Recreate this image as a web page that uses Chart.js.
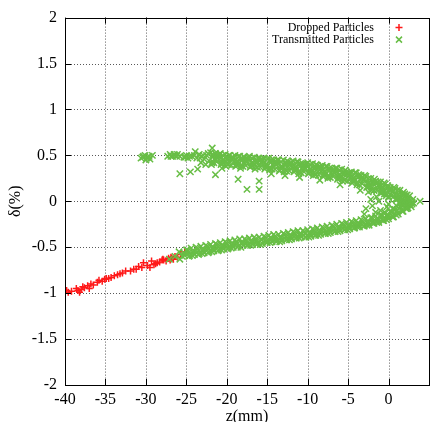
<!DOCTYPE html>
<html>
<head>
<meta charset="utf-8">
<script src="https://cdn.jsdelivr.net/npm/chart.js@4.4.1/dist/chart.umd.min.js"></script>
<style>
  html, body { margin: 0; padding: 0; background: #fff; overflow: hidden; }
  #wrap { width: 435px; height: 422px; }
</style>
</head>
<body>
<div id="wrap"><canvas id="phaseChart" width="435" height="422"></canvas></div>
<script>
// axis ticks
const xTickValues = [-40, -35, -30, -25, -20, -15, -10, -5, 0];
const xTickLabels = ['-40', '-35', '-30', '-25', '-20', '-15', '-10', '-5', '0'];
const yTickValues = [-2, -1.5, -1, -0.5, 0, 0.5, 1, 1.5, 2];
const yTickLabels = ['-2', '-1.5', '-1', '-0.5', '0', '0.5', '1', '1.5', '2'];

// dropped particles (z in mm, delta in %)
const dropZ = [-39.8, -39.6, -38.6, -38.4, -38.2, -38.0, -37.6, -37.2, -37.0, -36.5,
  -36.0, -35.8, -35.4, -35.1, -34.6, -34.3, -33.9, -33.5, -32.9, -32.5,
  -31.9, -31.5, -30.9, -30.5, -30.3, -29.8, -29.5, -29.3, -28.8, -28.3,
  -28.0, -27.9, -27.5, -27.2, -26.9, -26.6, -26.4, -26.1, -25.7, -25.2,
  -28.6, -27.8, -26.8, -39.2, -37.8, -36.8, -34.9, -33.2, -31.2, -29.0, -27.0];
const dropDelta = [-0.97, -0.99, -0.95, -0.97, -0.99, -0.96, -0.94, -0.92, -0.95, -0.91,
  -0.88, -0.86, -0.87, -0.85, -0.84, -0.83, -0.81, -0.80, -0.78, -0.76,
  -0.76, -0.74, -0.71, -0.72, -0.67, -0.70, -0.72, -0.65, -0.68, -0.66,
  -0.64, -0.63, -0.65, -0.62, -0.61, -0.63, -0.60, -0.61, -0.58, -0.55,
  -0.67, -0.64, -0.62, -0.98, -0.93, -0.90, -0.84, -0.79, -0.74, -0.69, -0.64];

// transmitted particles, upper branch
const upperZ = [
  -22.0, -21.7, -22.2, -21.9,  -21.4, -21.1, -21.6, -21.3,  -20.8, -20.5, -21.0, -20.7,
  -20.2, -19.9, -20.4, -20.1,  -19.6, -19.3, -19.8, -19.5,  -19.0, -18.7, -19.2, -18.9,
  -18.4, -18.1, -18.6, -18.3,  -17.8, -17.5, -18.0, -17.7,  -17.2, -16.9, -17.4, -17.1,
  -16.6, -16.3, -16.8, -16.5,  -16.0, -15.7, -16.2, -15.9,  -15.4, -15.1, -15.6, -15.3,
  -14.8, -14.5, -15.0, -14.7,  -14.2, -13.9, -14.4, -14.1,  -13.6, -13.3, -13.8, -13.5,
  -13.0, -12.7, -13.2, -12.9,  -12.4, -12.1, -12.6, -12.3,  -11.8, -11.5, -12.0, -11.7,
  -11.2, -10.9, -11.4, -11.1,  -10.6, -10.3, -10.8, -10.5,  -10.0, -9.7, -10.2, -9.9,
  -9.4, -9.1, -9.6, -9.3,  -8.8, -8.5, -9.0, -8.7,  -8.2, -7.9, -8.4, -8.1,
  -7.6, -7.3, -7.8, -7.5,  -7.0, -6.7, -7.2, -6.9,  -6.4, -6.1, -6.6, -6.3,
  -5.8, -5.5, -6.0, -5.7,  -5.2, -4.9, -5.4, -5.1,  -4.6, -4.3, -4.8, -4.5,
  -4.0, -3.7, -4.2, -3.9,  -3.4, -3.1, -3.6, -3.3,  -2.8, -2.5, -3.0, -2.7,
  -2.2, -1.9, -2.4, -2.1,  -1.6, -1.3, -1.8, -1.5,  -1.0, -0.7, -1.2, -0.9,
  -0.4, -0.1, -0.6, -0.3,  0.2, 0.5, 0.0, 0.3,  0.8, 1.1, 0.6, 0.9,
  1.4, 1.7, 1.2, 1.5,  2.0, 2.3, 1.8, 2.1,  2.6, 2.9, 2.4, 2.7];
const upperDelta = [
  0.53, 0.49, 0.44, 0.40,  0.52, 0.47, 0.42, 0.50,  0.52, 0.45, 0.49, 0.40,
  0.51, 0.47, 0.42, 0.38,  0.50, 0.45, 0.40, 0.47,  0.50, 0.43, 0.47, 0.38,
  0.49, 0.45, 0.40, 0.36,  0.48, 0.43, 0.38, 0.46,  0.49, 0.42, 0.46, 0.37,
  0.48, 0.44, 0.39, 0.35,  0.47, 0.42, 0.37, 0.45,  0.47, 0.40, 0.44, 0.35,
  0.47, 0.43, 0.38, 0.34,  0.45, 0.40, 0.35, 0.43,  0.45, 0.38, 0.42, 0.33,
  0.45, 0.41, 0.36, 0.32,  0.43, 0.38, 0.33, 0.41,  0.44, 0.37, 0.41, 0.32,
  0.43, 0.39, 0.34, 0.30,  0.41, 0.36, 0.31, 0.39,  0.42, 0.35, 0.39, 0.30,
  0.41, 0.37, 0.32, 0.28,  0.39, 0.34, 0.29, 0.37,  0.39, 0.32, 0.36, 0.27,
  0.38, 0.34, 0.29, 0.25,  0.36, 0.31, 0.26, 0.34,  0.36, 0.29, 0.33, 0.24,
  0.35, 0.31, 0.26, 0.22,  0.32, 0.28, 0.23, 0.30,  0.32, 0.25, 0.29, 0.20,
  0.31, 0.27, 0.22, 0.18,  0.28, 0.23, 0.18, 0.26,  0.27, 0.20, 0.24, 0.15,
  0.25, 0.21, 0.16, 0.12,  0.22, 0.17, 0.12, 0.20,  0.21, 0.14, 0.18, 0.09,
  0.19, 0.15, 0.10, 0.06,  0.15, 0.10, 0.05, 0.13,  0.14, 0.07, 0.11, 0.02,
  0.12, 0.08, 0.03, -0.01,  0.08, 0.03, -0.02, 0.06,  0.06, -0.01, 0.03, -0.04];

// upper branch, second pass between the rows above
const upperZ2 = [
  -21.7, -21.55, -21.85,  -21.1, -20.95, -21.25,  -20.5, -20.35, -20.65,  -19.9, -19.75, -20.05,
  -19.3, -19.15, -19.45,  -18.7, -18.55, -18.85,  -18.1, -17.95, -18.25,  -17.5, -17.35, -17.65,
  -16.9, -16.75, -17.05,  -16.3, -16.15, -16.45,  -15.7, -15.55, -15.85,  -15.1, -14.95, -15.25,
  -14.5, -14.35, -14.65,  -13.9, -13.75, -14.05,  -13.3, -13.15, -13.45,  -12.7, -12.55, -12.85,
  -12.1, -11.95, -12.25,  -11.5, -11.35, -11.65,  -10.9, -10.75, -11.05,  -10.3, -10.15, -10.45,
  -9.7, -9.55, -9.85,  -9.1, -8.95, -9.25,  -8.5, -8.35, -8.65,  -7.9, -7.75, -8.05,
  -7.3, -7.15, -7.45,  -6.7, -6.55, -6.85,  -6.1, -5.95, -6.25,  -5.5, -5.35, -5.65,
  -4.9, -4.75, -5.05,  -4.3, -4.15, -4.45,  -3.7, -3.55, -3.85,  -3.1, -2.95, -3.25,
  -2.5, -2.35, -2.65,  -1.9, -1.75, -2.05,  -1.3, -1.15, -1.45,  -0.7, -0.55, -0.85,
  -0.1, 0.05, -0.25,  0.5, 0.65, 0.35,  1.1, 1.25, 0.95,  1.7, 1.85, 1.55,  2.3, 2.45, 2.15];
const upperDelta2 = [
  0.51, 0.46, 0.42,  0.47, 0.51, 0.43,  0.50, 0.45, 0.41,  0.45, 0.50, 0.41,
  0.48, 0.43, 0.39,  0.44, 0.49, 0.40,  0.47, 0.42, 0.38,  0.43, 0.48, 0.39,
  0.47, 0.42, 0.38,  0.42, 0.47, 0.38,  0.46, 0.41, 0.37,  0.41, 0.46, 0.37,
  0.45, 0.40, 0.36,  0.40, 0.45, 0.35,  0.43, 0.38, 0.34,  0.39, 0.44, 0.35,
  0.42, 0.37, 0.33,  0.38, 0.43, 0.34,  0.41, 0.36, 0.32,  0.36, 0.41, 0.32,
  0.40, 0.35, 0.31,  0.35, 0.40, 0.31,  0.38, 0.33, 0.29,  0.33, 0.38, 0.29,
  0.36, 0.31, 0.27,  0.31, 0.36, 0.27,  0.34, 0.29, 0.25,  0.29, 0.34, 0.25,
  0.31, 0.26, 0.22,  0.26, 0.31, 0.22,  0.29, 0.24, 0.20,  0.23, 0.28, 0.19,
  0.25, 0.20, 0.16,  0.19, 0.24, 0.15,  0.21, 0.16, 0.12,  0.15, 0.20, 0.11,
  0.17, 0.12, 0.08,  0.10, 0.15, 0.06,  0.12, 0.07, 0.03,  0.06, 0.10, 0.01,  0.07, 0.02, -0.02];

// transmitted particles, lower branch
const lowerZ = [
  2.6, 2.9, 2.4,  2.0, 2.3, 1.8,  1.4, 1.7, 1.2,  0.8, 1.1, 0.6,  0.2, 0.5, 0.0,
  -0.4, -0.1, -0.6,  -1.0, -0.7, -1.2,  -1.6, -1.3, -1.8,  -2.2, -1.9, -2.4,  -2.8, -2.5, -3.0,
  -3.4, -3.1, -3.6,  -4.0, -3.7, -4.2,  -4.6, -4.3, -4.8,  -5.2, -4.9, -5.4,  -5.8, -5.5, -6.0,
  -6.4, -6.1, -6.6,  -7.0, -6.7, -7.2,  -7.6, -7.3, -7.8,  -8.2, -7.9, -8.4,  -8.8, -8.5, -9.0,
  -9.4, -9.1, -9.6,  -10.0, -9.7, -10.2,  -10.6, -10.3, -10.8,  -11.2, -10.9, -11.4,
  -11.8, -11.5, -12.0,  -12.4, -12.1, -12.6,  -13.0, -12.7, -13.2,  -13.6, -13.3, -13.8,
  -14.2, -13.9, -14.4,  -14.8, -14.5, -15.0,  -15.4, -15.1, -15.6,  -16.0, -15.7, -16.2,
  -16.6, -16.3, -16.8,  -17.2, -16.9, -17.4,  -17.8, -17.5, -18.0,  -18.4, -18.1, -18.6,
  -19.0, -18.7, -19.2,  -19.6, -19.3, -19.8,  -20.2, -19.9, -20.4,  -20.8, -20.5, -21.0,
  -21.4, -21.1, -21.6,  -22.0, -21.7, -22.2,  -22.6, -22.3, -22.8,  -23.2, -22.9, -23.4,
  -23.8, -23.5, -24.0,  -24.4, -24.1, -24.6,  -25.0, -24.7, -25.2];
const lowerDelta = [
  0.01, -0.03, -0.07,  -0.03, -0.08, -0.11,  -0.06, -0.10, -0.14,  -0.09, -0.13, -0.17,  -0.11, -0.16, -0.19,
  -0.13, -0.17, -0.21,  -0.15, -0.19, -0.23,  -0.16, -0.21, -0.24,  -0.18, -0.22, -0.26,  -0.19, -0.24, -0.27,
  -0.20, -0.24, -0.28,  -0.21, -0.26, -0.29,  -0.22, -0.26, -0.30,  -0.23, -0.28, -0.31,  -0.24, -0.28, -0.32,
  -0.25, -0.30, -0.33,  -0.26, -0.30, -0.34,  -0.27, -0.32, -0.35,  -0.28, -0.32, -0.36,  -0.29, -0.34, -0.37,
  -0.30, -0.34, -0.38,  -0.31, -0.36, -0.39,  -0.32, -0.35, -0.39,  -0.32, -0.37, -0.40,
  -0.33, -0.37, -0.41,  -0.34, -0.39, -0.42,  -0.35, -0.39, -0.43,  -0.36, -0.40, -0.43,
  -0.36, -0.41, -0.44,  -0.37, -0.41, -0.45,  -0.38, -0.43, -0.46,  -0.39, -0.42, -0.46,
  -0.39, -0.44, -0.47,  -0.40, -0.44, -0.48,  -0.41, -0.45, -0.48,  -0.41, -0.46, -0.49,
  -0.42, -0.46, -0.50,  -0.43, -0.48, -0.51,  -0.44, -0.48, -0.52,  -0.45, -0.50, -0.53,
  -0.46, -0.50, -0.54,  -0.47, -0.52, -0.55,  -0.48, -0.52, -0.56,  -0.49, -0.54, -0.57,
  -0.50, -0.54, -0.58,  -0.51, -0.56, -0.59,  -0.53, -0.56, -0.59];

// lower branch, second pass between the rows above
const lowerZ2 = [
  2.3, 2.15,  1.7, 1.55,  1.1, 0.95,  0.5, 0.35,  -0.1, -0.25,  -0.7, -0.85,
  -1.3, -1.45,  -1.9, -2.05,  -2.5, -2.65,  -3.1, -3.25,  -3.7, -3.85,  -4.3, -4.45,
  -4.9, -5.05,  -5.5, -5.65,  -6.1, -6.25,  -6.7, -6.85,  -7.3, -7.45,  -7.9, -8.05,
  -8.5, -8.65,  -9.1, -9.25,  -9.7, -9.85,  -10.3, -10.45,  -10.9, -11.05,  -11.5, -11.65,
  -12.1, -12.25,  -12.7, -12.85,  -13.3, -13.45,  -13.9, -14.05,  -14.5, -14.65,  -15.1, -15.25,
  -15.7, -15.85,  -16.3, -16.45,  -16.9, -17.05,  -17.5, -17.65,  -18.1, -18.25,  -18.7, -18.85,
  -19.3, -19.45,  -19.9, -20.05,  -20.5, -20.65,  -21.1, -21.25,  -21.7, -21.85,  -22.3, -22.45,
  -22.9, -23.05,  -23.5, -23.65,  -24.1, -24.25,  -24.7, -24.85,  -25.3, -25.5];
const lowerDelta2 = [
  -0.04, -0.08,  -0.11, -0.06,  -0.10, -0.15,  -0.17, -0.12,  -0.15, -0.20,  -0.21, -0.15,
  -0.19, -0.23,  -0.24, -0.18,  -0.22, -0.26,  -0.27, -0.21,  -0.24, -0.28,  -0.29, -0.23,
  -0.26, -0.31,  -0.31, -0.25,  -0.28, -0.33,  -0.33, -0.27,  -0.30, -0.35,  -0.35, -0.29,
  -0.32, -0.37,  -0.37, -0.31,  -0.34, -0.39,  -0.39, -0.33,  -0.35, -0.40,  -0.40, -0.34,
  -0.37, -0.42,  -0.42, -0.36,  -0.39, -0.44,  -0.44, -0.38,  -0.40, -0.45,  -0.45, -0.39,
  -0.42, -0.47,  -0.47, -0.41,  -0.43, -0.48,  -0.48, -0.42,  -0.45, -0.50,  -0.50, -0.44,
  -0.46, -0.51,  -0.52, -0.45,  -0.48, -0.53,  -0.54, -0.47,  -0.50, -0.55,  -0.56, -0.49,
  -0.52, -0.57,  -0.58, -0.51,  -0.54, -0.59,  -0.60, -0.53,  -0.56, -0.60];

// sparse head of the upper branch, strays, filled tip, tail among the dropped ones
const sparseZ = [-30.6, -30.3, -30.0, -29.8, -29.5, -29.2, -30.1, -30.4, -29.9, -29.6,
  -27.3, -27.0, -26.7, -26.4, -26.1, -25.8, -26.9, -26.5, -26.2,
  -25.3, -25.0, -24.8, -24.6, -25.1, -24.3,
  -24.0, -23.7, -23.4, -23.1, -22.8, -22.5, -22.3, -23.9, -21.8, -23.3, -22.9,
  -25.8, -24.5, -23.6, -23.2, -22.6, -21.4, -20.6, -18.6, -17.5, -16.0, -16.0, -14.5, -12.8, -11.0, -8.5, -6.0, -3.5,
  -2.5, -2.0, -1.5, -1.0, -0.5, 0.0, 0.0, 0.5, 1.0, 1.0, 1.5, 2.2, 3.0, 3.1, -0.5, 0.3, 1.8, 2.5, -1.8, -3.0, 3.9,
  -2.2, -1.2, -0.2, 0.6, 1.3, 2.0, 2.8, -2.8, -1.6, -0.8,
  -25.9, -25.8, -27.1, -26.4];
const sparseDelta = [0.47, 0.49, 0.45, 0.48, 0.46, 0.50, 0.50, 0.48, 0.47, 0.49,
  0.49, 0.51, 0.49, 0.50, 0.51, 0.49, 0.49, 0.51, 0.49,
  0.48, 0.50, 0.47, 0.49, 0.48, 0.49,
  0.50, 0.47, 0.51, 0.49, 0.46, 0.50, 0.52, 0.54, 0.58, 0.47, 0.50,
  0.30, 0.32, 0.35, 0.42, 0.40, 0.29, 0.36, 0.24, 0.13, 0.22, 0.13, 0.30, 0.28, 0.26, 0.23, 0.18, 0.12,
  0.10, -0.05, 0.05, -0.10, 0.08, -0.03, 0.04, -0.08, 0.02, -0.05, 0.04, -0.04, 0.02, -0.02, -0.12, -0.11, 0.00, 0.00, 0.12, -0.14, 0.00,
  0.02, 0.00, -0.06, 0.05, -0.02, 0.01, -0.06, -0.08, -0.12, 0.10,
  -0.55, -0.63, -0.63, -0.60];

const transZ = upperZ.concat(upperZ2, lowerZ, lowerZ2, sparseZ);
const transDelta = upperDelta.concat(upperDelta2, lowerDelta, lowerDelta2, sparseDelta);

const GREEN = 'rgb(104,190,70)';
const RED = 'rgb(255,25,25)';
const SERIF = '"Liberation Serif", "Times New Roman", serif';

const toPoints = (zs, ds) => zs.map((z, i) => ({ x: z, y: ds[i] }));

// gnuplot style frame: dotted grid, solid border, inward ticks
const gnuplotFrame = {
  id: 'gnuplotFrame',
  beforeDatasetsDraw(chart) {
    const { ctx, chartArea: a, scales: { x, y } } = chart;
    ctx.save();
    ctx.strokeStyle = 'rgba(0,0,0,0.65)';
    ctx.lineWidth = 1;
    ctx.setLineDash([1, 2]);
    x.ticks.forEach(t => {
      if (t.value <= x.min || t.value >= x.max) return;
      const px = Math.round(x.getPixelForValue(t.value)) + 0.5;
      ctx.beginPath(); ctx.moveTo(px, a.top); ctx.lineTo(px, a.bottom); ctx.stroke();
    });
    y.ticks.forEach(t => {
      if (t.value <= y.min || t.value >= y.max) return;
      const py = Math.round(y.getPixelForValue(t.value)) + 0.5;
      ctx.beginPath(); ctx.moveTo(a.left, py); ctx.lineTo(a.right, py); ctx.stroke();
    });
    ctx.restore();
  },
  afterDatasetsDraw(chart) {
    const { ctx, chartArea: a, scales: { x, y } } = chart;
    const len = 6;
    ctx.save();
    ctx.strokeStyle = '#000';
    ctx.lineWidth = 1;
    ctx.setLineDash([]);
    ctx.strokeRect(Math.round(a.left) + 0.5, Math.round(a.top) + 0.5,
      Math.round(a.right - a.left), Math.round(a.bottom - a.top));
    ctx.beginPath();
    x.ticks.forEach(t => {
      const px = Math.round(x.getPixelForValue(t.value)) + 0.5;
      ctx.moveTo(px, a.bottom); ctx.lineTo(px, a.bottom - len);
      ctx.moveTo(px, a.top); ctx.lineTo(px, a.top + len);
    });
    y.ticks.forEach(t => {
      const py = Math.round(y.getPixelForValue(t.value)) + 0.5;
      ctx.moveTo(a.left, py); ctx.lineTo(a.left + len, py);
      ctx.moveTo(a.right, py); ctx.lineTo(a.right - len, py);
    });
    ctx.stroke();
    ctx.restore();
  }
};

// key in the top right corner: right aligned text, sample marker after it
const gnuplotKey = {
  id: 'gnuplotKey',
  afterDraw(chart) {
    const { ctx, chartArea: a } = chart;
    const entries = [
      { text: 'Dropped Particles', color: RED, style: 'plus' },
      { text: 'Transmitted Particles', color: GREEN, style: 'x' }
    ];
    ctx.save();
    ctx.font = '12px ' + SERIF;
    ctx.textAlign = 'right';
    ctx.textBaseline = 'middle';
    entries.forEach((e, i) => {
      const cy = a.top + 10 + i * 12;
      ctx.fillStyle = '#000';
      ctx.fillText(e.text, a.right - 55, cy);
      const cx = a.right - 30;
      ctx.strokeStyle = e.color;
      ctx.lineWidth = 1.5;
      ctx.beginPath();
      if (e.style === 'plus') {
        ctx.moveTo(cx - 3.5, cy); ctx.lineTo(cx + 3.5, cy);
        ctx.moveTo(cx, cy - 3.5); ctx.lineTo(cx, cy + 3.5);
      } else {
        ctx.moveTo(cx - 3, cy - 3); ctx.lineTo(cx + 3, cy + 3);
        ctx.moveTo(cx - 3, cy + 3); ctx.lineTo(cx + 3, cy - 3);
      }
      ctx.stroke();
    });
    ctx.restore();
  }
};

const ctx = document.getElementById('phaseChart').getContext('2d');
new Chart(ctx, {
  type: 'scatter',
  data: {
    datasets: [
      {
        label: 'Transmitted Particles',
        data: toPoints(transZ, transDelta),
        pointStyle: 'crossRot',
        pointRadius: 4.5,
        borderColor: GREEN,
        backgroundColor: GREEN,
        borderWidth: 1.5
      },
      {
        label: 'Dropped Particles',
        data: toPoints(dropZ, dropDelta),
        pointStyle: 'cross',
        pointRadius: 3.5,
        borderColor: RED,
        backgroundColor: RED,
        borderWidth: 1.5
      }
    ]
  },
  options: {
    responsive: false,
    animation: false,
    layout: { padding: { top: 17, right: 0, bottom: 0, left: 0 } },
    plugins: {
      legend: { display: false },
      tooltip: { enabled: false }
    },
    scales: {
      x: {
        type: 'linear',
        min: -40,
        max: 5,
        grid: { display: false, drawTicks: false, tickLength: 0 },
        border: { display: false },
        afterBuildTicks: s => { s.ticks = xTickValues.map(v => ({ value: v })); },
        afterFit: s => { s.height = 37; },
        ticks: {
          autoSkip: false,
          maxRotation: 0,
          padding: 5,
          color: '#000',
          font: { family: SERIF, size: 16 },
          callback: (v, i) => xTickLabels[i]
        },
        title: {
          display: true,
          text: 'z(mm)',
          color: '#000',
          font: { family: SERIF, size: 16 },
          padding: { top: 0, bottom: -4 }
        }
      },
      y: {
        type: 'linear',
        min: -2,
        max: 2,
        grid: { display: false, drawTicks: false, tickLength: 0 },
        border: { display: false },
        afterBuildTicks: s => { s.ticks = yTickValues.map(v => ({ value: v })); },
        afterFit: s => { s.width = 65; },
        ticks: {
          autoSkip: false,
          padding: 8,
          color: '#000',
          font: { family: SERIF, size: 16 },
          callback: (v, i) => yTickLabels[i]
        },
        title: {
          display: true,
          text: 'δ(%)',
          color: '#000',
          font: { family: SERIF, size: 16 },
          padding: { top: 6, bottom: 0 }
        }
      }
    }
  },
  plugins: [gnuplotFrame, gnuplotKey]
});
</script>
</body>
</html>
